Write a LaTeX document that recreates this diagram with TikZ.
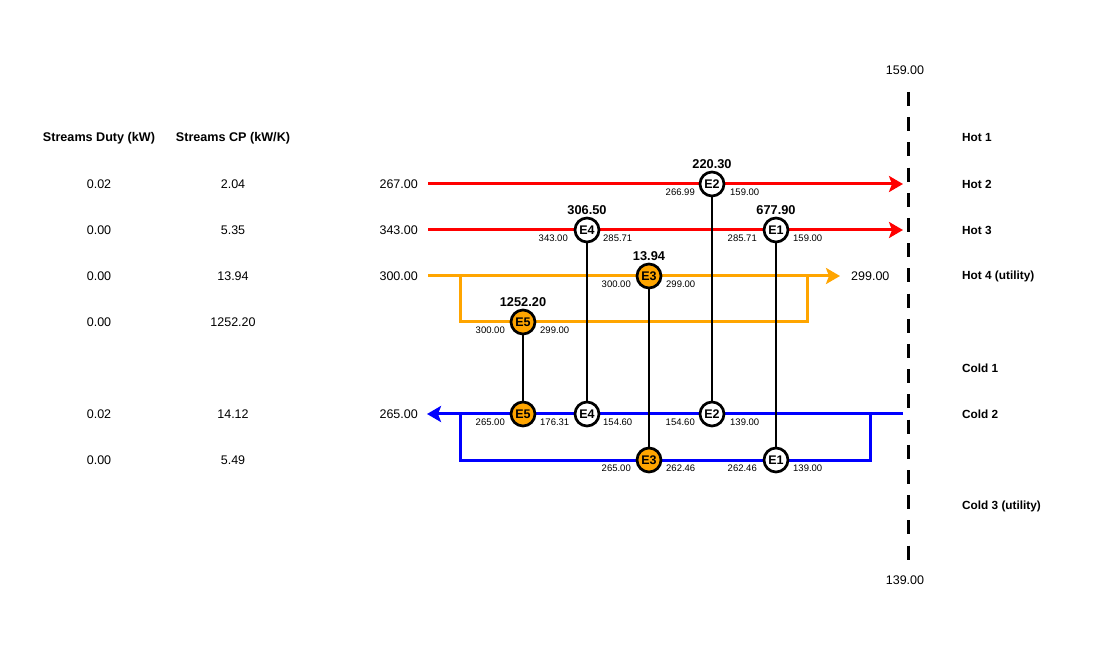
\documentclass[tikz,border=0pt]{standalone}
\usepackage{fontspec}
\setmainfont{Liberation Sans}
\usetikzlibrary{arrows.meta}
\definecolor{hotred}{RGB}{255,0,0}
\definecolor{util}{RGB}{255,165,0}
\definecolor{coldblue}{RGB}{0,0,255}
\tikzset{
  hx/.style={circle, draw=black, line width=2.7pt, fill=white, minimum size=24pt, inner sep=0pt, font=\fontsize{12.5}{13}\selectfont\bfseries},
  hxu/.style={hx, fill=util},
  stream/.style={line width=3pt},
  tip/.style={-{Stealth[length=14pt,width=16pt,inset=3pt]}},
  hotstream/.style={stream, draw=hotred, tip},
  utilstream/.style={stream, draw=util},
  coldstream/.style={stream, draw=coldblue},
  link/.style={line width=2.5pt, draw=black},
  tsmall/.style={font=\fontsize{9.5}{10}\selectfont, inner sep=0pt},
  tleft/.style={tsmall, anchor=east},
  tright/.style={tsmall, anchor=west},
  duty/.style={font=\fontsize{12.8}{14}\selectfont\bfseries, inner sep=0pt},
  lab/.style={font=\fontsize{12.5}{14}\selectfont, inner sep=0pt},
  slab/.style={font=\fontsize{11.8}{13}\selectfont\bfseries, inner sep=0pt, anchor=west},
  hdr/.style={font=\fontsize{12.6}{14}\selectfont\bfseries, inner sep=0pt},
  boundary/.style={line width=3pt, draw=black, dash pattern=on 14pt off 11.2pt}
}
\begin{document}
\begin{tikzpicture}[x=1pt,y=-1pt]
\useasboundingbox (0,0) rectangle (1112,668);
\fill[white] (0,0) rectangle (1112,668);

% table
\node[hdr] (hduty) at (99,138) {Streams Duty (kW)};
\node[hdr] (hcp) at (233,138) {Streams CP (kW/K)};
\node[lab] (d1) at (99,184) {0.02};   \node[lab] (c1) at (233,184) {2.04};
\node[lab] (d2) at (99,230) {0.00};   \node[lab] (c2) at (233,230) {5.35};
\node[lab] (d3) at (99,276) {0.00};   \node[lab] (c3) at (233,276) {13.94};
\node[lab] (d4) at (99,322) {0.00};   \node[lab] (c4) at (233,322) {1252.20};
\node[lab] (d5) at (99,414) {0.02};   \node[lab] (c5) at (233,414) {14.12};
\node[lab] (d6) at (99,460) {0.00};   \node[lab] (c6) at (233,460) {5.49};

% stream labels
\node[slab] (s1) at (962,138) {Hot 1};
\node[slab] (s2) at (962,184) {Hot 2};
\node[slab] (s3) at (962,230) {Hot 3};
\node[slab] (s4) at (962,276) {Hot 4 (utility)};
\node[slab] (s5) at (962,368) {Cold 1};
\node[slab] (s6) at (962,414) {Cold 2};
\node[slab] (s7) at (962,506) {Cold 3 (utility)};

% inlet temperatures
\node[lab, anchor=east] (t2) at (418,184) {267.00};
\node[lab, anchor=east] (t3) at (418,230) {343.00};
\node[lab, anchor=east] (t4) at (418,276) {300.00};
\node[lab, anchor=east] (t6) at (418,414) {265.00};
\node[lab, anchor=west] (t4o) at (851,276) {299.00};

% boundary
\coordinate (btop) at (908,92);
\coordinate (bbot) at (908,559.6);
\draw[boundary] (btop) -- (bbot);
\node[lab] (b159) at (905,70) {159.00};
\node[lab] (b139) at (905,580) {139.00};

% stream coordinates
\coordinate (h2s) at (428,184); \coordinate (h2e) at (903,184);
\coordinate (h3s) at (428,230); \coordinate (h3e) at (903,230);
\coordinate (h4s) at (428,276); \coordinate (h4e) at (840,276);
\coordinate (h4a) at (460,276); \coordinate (h4b) at (460,322);
\coordinate (h4c) at (807,322); \coordinate (h4d) at (807,276);
\coordinate (c2s) at (903,414); \coordinate (c2e) at (427,414);
\coordinate (c2a) at (870,414); \coordinate (c2b) at (870,460);
\coordinate (c2c) at (460,460); \coordinate (c2d) at (460,414);

% streams
\draw[hotstream] (h2s) -- (h2e);
\draw[hotstream] (h3s) -- (h3e);
\draw[utilstream] (h4a) -- (h4b) -- (h4c) -- (h4d);
\draw[utilstream, tip] (h4s) -- (h4e);
\draw[coldstream] (c2a) -- (c2b) -- (c2c) -- (c2d);
\draw[coldstream, tip] (c2s) -- (c2e);

% exchanger nodes
\node[hx]  (E2h) at (712,184) {E2};
\node[hx]  (E4h) at (587,230) {E4};
\node[hx]  (E1h) at (776,230) {E1};
\node[hxu] (E3h) at (649,276) {E3};
\node[hxu] (E5h) at (523,322) {E5};
\node[hxu] (E5c) at (523,414) {E5};
\node[hx]  (E4c) at (587,414) {E4};
\node[hx]  (E2c) at (712,414) {E2};
\node[hxu] (E3c) at (649,460) {E3};
\node[hx]  (E1c) at (776,460) {E1};

% links
\draw[link] (E5h) -- (E5c);
\draw[link] (E4h) -- (E4c);
\draw[link] (E3h) -- (E3c);
\draw[link] (E2h) -- (E2c);
\draw[link] (E1h) -- (E1c);

% duties
\node[duty] (q2) at (712,164) {220.30};
\node[duty] (q4) at (587,210) {306.50};
\node[duty] (q1) at (776,210) {677.90};
\node[duty] (q3) at (649,256) {13.94};
\node[duty] (q5) at (523,302) {1252.20};

% small temperature labels
\node[tleft]  at (695,192) {266.99};  \node[tright] at (730,192) {159.00};
\node[tleft]  at (568,238) {343.00};  \node[tright] at (603,238) {285.71};
\node[tleft]  at (757,238) {285.71};  \node[tright] at (793,238) {159.00};
\node[tleft]  at (631,284) {300.00};  \node[tright] at (666,284) {299.00};
\node[tleft]  at (505,330) {300.00};  \node[tright] at (540,330) {299.00};
\node[tleft]  at (505,422) {265.00};  \node[tright] at (540,422) {176.31};
\node[tright] at (603,422) {154.60};
\node[tleft]  at (695,422) {154.60};  \node[tright] at (730,422) {139.00};
\node[tleft]  at (631,468) {265.00};  \node[tright] at (666,468) {262.46};
\node[tleft]  at (757,468) {262.46};  \node[tright] at (793,468) {139.00};
\end{tikzpicture}
\end{document}
